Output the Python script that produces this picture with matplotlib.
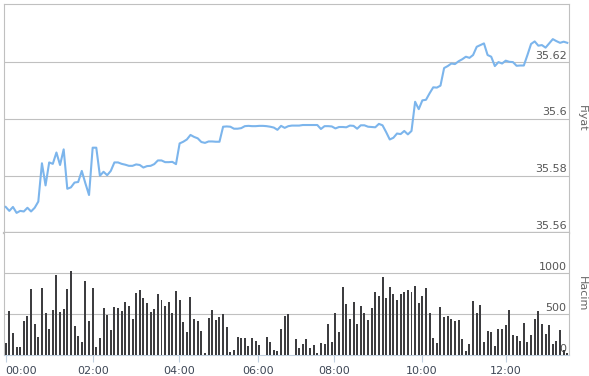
import numpy as np
import matplotlib
matplotlib.use("Agg")
import matplotlib.pyplot as plt

# 5 dakikalik veri, 00:00 - 13:25
price = [35.5690, 35.5676, 35.5690, 35.5669, 35.5676, 35.5674, 35.5687, 35.5674, 35.5687, 35.5709,
         35.5844, 35.5766, 35.5847, 35.5842, 35.5882, 35.5838, 35.5893, 35.5754, 35.5759, 35.5776,
         35.5778, 35.5817, 35.5773, 35.5732, 35.5899, 35.5899, 35.5800, 35.5814, 35.5802, 35.5817,
         35.5847, 35.5847, 35.5842, 35.5839, 35.5835, 35.5835, 35.5840, 35.5838, 35.5829, 35.5834,
         35.5835, 35.5841, 35.5854, 35.5854, 35.5848, 35.5848, 35.5849, 35.5841, 35.5914, 35.5920,
         35.5928, 35.5944, 35.5937, 35.5932, 35.5919, 35.5916, 35.5921, 35.5921, 35.5920, 35.5920,
         35.5973, 35.5974, 35.5973, 35.5966, 35.5966, 35.5968, 35.5975, 35.5976, 35.5975, 35.5975,
         35.5976, 35.5976, 35.5975, 35.5973, 35.5970, 35.5962, 35.5976, 35.5969, 35.5975, 35.5977,
         35.5977, 35.5977, 35.5979, 35.5979, 35.5979, 35.5979, 35.5979, 35.5965, 35.5975, 35.5975,
         35.5974, 35.5967, 35.5972, 35.5972, 35.5971, 35.5977, 35.5976, 35.5966, 35.5978, 35.5978,
         35.5973, 35.5972, 35.5971, 35.5983, 35.5978, 35.5954, 35.5928, 35.5934, 35.5949, 35.5947,
         35.5958, 35.5946, 35.5958, 35.6061, 35.6035, 35.6066, 35.6068, 35.6091, 35.6112, 35.6111,
         35.6118, 35.6180, 35.6187, 35.6196, 35.6194, 35.6204, 35.6211, 35.6220, 35.6216, 35.6226,
         35.6255, 35.6261, 35.6267, 35.6226, 35.6220, 35.6187, 35.6201, 35.6196, 35.6206, 35.6202,
         35.6201, 35.6188, 35.6189, 35.6189, 35.6226, 35.6265, 35.6274, 35.6259, 35.6261, 35.6252,
         35.6267, 35.6282, 35.6275, 35.6269, 35.6273, 35.6269]

volume = [150, 537, 272, 98, 98, 415, 476, 805, 378, 220,
          817, 512, 317, 549, 976, 524, 561, 805, 1033, 354,
          232, 159, 902, 415, 817, 98, 215, 573, 488, 305,
          585, 573, 537, 646, 602, 439, 756, 793, 695, 634,
          524, 561, 744, 679, 602, 646, 516, 780, 671, 402,
          280, 707, 447, 419, 293, 28, 451, 549, 427, 463,
          500, 341, 41, 61, 220, 207, 207, 110, 207, 171,
          122, 0, 220, 159, 61, 53, 317, 476, 500, 0,
          195, 85, 138, 195, 85, 122, 24, 146, 134, 382,
          159, 512, 280, 829, 622, 439, 646, 378, 598, 512,
          427, 581, 776, 720, 951, 695, 829, 752, 679, 752,
          776, 797, 768, 850, 638, 720, 817, 520, 215, 146,
          585, 463, 476, 439, 415, 427, 195, 49, 134, 659,
          512, 610, 159, 293, 280, 110, 317, 317, 366, 549,
          244, 232, 171, 390, 159, 244, 439, 537, 378, 256,
          366, 134, 171, 305, 60, 30]

time_labels = ["00:00", "02:00", "04:00", "06:00", "08:00", "10:00", "12:00"]
time_pos = [0, 24, 47.9, 69.7, 90.7, 114.8, 138]
price_ticks = [35.56, 35.58, 35.6, 35.62]
price_tick_labels = ["35.56", "35.58", "35.6", "35.62"]
vol_ticks = [0, 500, 1000]
vol_tick_labels = ["0", "500", "1000"]

x = np.arange(len(price))
grid_c = "#c0c0c0"
axis_c = "#c0d0e0"
lab_c = "#555555"

fig = plt.figure(figsize=(5.89, 3.76), dpi=100)
L = 4 / 589
W = 565 / 589
ax1 = fig.add_axes([L, 1 - 233 / 376, W, 229 / 376])
ax2 = fig.add_axes([L, 1 - 355.3 / 376, W, 122.3 / 376], sharex=ax1)

# fiyat paneli
ax1.plot(x, price, color="#7cb5ec", lw=1.5, zorder=3)
ax1.set_ylim(35.5598, 35.6406)
ax1.set_xlim(-0.47, len(price) - 0.53)
for v, t in zip(price_ticks, price_tick_labels):
    ax1.axhline(v, color=grid_c, lw=0.8, zorder=1)
    ax1.annotate(t, xy=(1, v), xycoords=("axes fraction", "data"), xytext=(-1.8, 1.2),
                 textcoords="offset points", ha="right", va="bottom", fontsize=8, color=lab_c)
ax1.set_yticks([])
ax1.tick_params(axis="x", bottom=False, labelbottom=False)
for s in ["top", "left", "right"]:
    ax1.spines[s].set_color(grid_c)
    ax1.spines[s].set_linewidth(0.8)
ax1.spines["bottom"].set_color(grid_c)
ax1.spines["bottom"].set_linewidth(1.6)

# hacim paneli
ax2.bar(x, volume, width=0.55, color="#3d3d40", zorder=3)
ax2.set_ylim(0, 1490)
for v, t in zip(vol_ticks, vol_tick_labels):
    if v > 0:
        ax2.axhline(v, color=grid_c, lw=0.8, zorder=1)
    ax2.annotate(t, xy=(1, v), xycoords=("axes fraction", "data"), xytext=(-1.8, 1.2),
                 textcoords="offset points", ha="right", va="bottom", fontsize=8, color=lab_c,
                 zorder=2)
ax2.set_yticks([])
ax2.set_xticks(time_pos)
ax2.set_xticklabels(time_labels, fontsize=8, color="#3e4756")
ax2.get_xticklabels()[0].set_ha("left")  # ilk etiket kenara yaslanir
ax2.tick_params(axis="x", length=5, width=0.8, color=axis_c, pad=3)
ax2.spines["top"].set_visible(False)
for s in ["left", "right"]:
    ax2.spines[s].set_color(grid_c)
    ax2.spines[s].set_linewidth(0.8)
ax2.spines["bottom"].set_color(axis_c)
ax2.spines["bottom"].set_linewidth(0.8)

fig.text(581.7 / 589, 1 - 118 / 376, "Fiyat", rotation=270, ha="center", va="center",
         fontsize=8, color="#666666")
fig.text(581.7 / 589, 1 - 294 / 376, "Hacim", rotation=270, ha="center", va="center",
         fontsize=8, color="#666666")

fig.savefig("out.png", dpi=100)
